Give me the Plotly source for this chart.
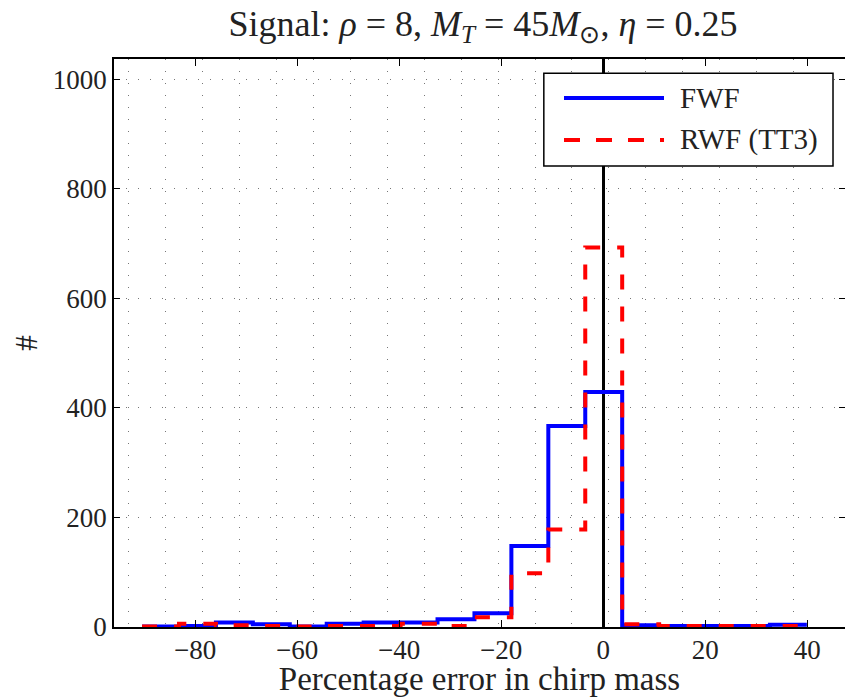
import plotly.graph_objects as go
import numpy as np

# histogram bins: percentage error in chirp mass
bin_start = -90.4
bin_width = 7.24
n_bins = 18
edges = bin_start + bin_width * np.arange(n_bins + 1)

# counts per bin
fwf_counts = [1, 2, 8, 5, 1, 6, 8, 8, 14, 25, 148, 367, 429, 3, 2, 2, 2, 4]
rwf_counts = [1, 6, 3, 2, 1, 2, 2, 6, 2, 18, 98, 178, 693, 5, 2, 2, 2, 2]
series_names = ["FWF", "RWF (TT3)"]

# dotted vertical grid (bin centres of the original hist call)
grid_start = -93.0
n_grid = 19
grid_x = grid_start + bin_width * np.arange(n_grid)

x_ticks = [-80, -60, -40, -20, 0, 20, 40]
y_ticks = [0, 200, 400, 600, 800, 1000]

font_family = "Liberation Serif"
text_color = "#222222"

fig = go.Figure()

fig.add_trace(go.Scatter(
    x=edges, y=fwf_counts + [fwf_counts[-1]],
    mode="lines", name=series_names[0],
    line=dict(shape="hv", color="#0000ff", width=4),
    showlegend=False))

fig.add_trace(go.Scatter(
    x=edges, y=rwf_counts + [rwf_counts[-1]],
    mode="lines", name=series_names[1],
    line=dict(shape="hv", color="#ff0000", width=4, dash="15px,17px"),
    showlegend=False))

# legend box drawn by hand so the sample lines are as long as in the original
lx0, lx1, ly0, ly1 = 0.588, 0.9836, 0.8116, 0.975
fig.add_shape(type="rect", xref="paper", yref="paper",
              x0=lx0, x1=lx1, y0=ly0, y1=ly1,
              line=dict(color="black", width=1.5), fillcolor="white", layer="above")
fig.add_shape(type="line", xref="paper", yref="paper",
              x0=0.6156, x1=0.7524, y0=0.9313, y1=0.9313,
              line=dict(color="#0000ff", width=4), layer="above")
fig.add_shape(type="line", xref="paper", yref="paper",
              x0=0.6156, x1=0.7524, y0=0.8574, y1=0.8574,
              line=dict(color="#ff0000", width=4, dash="16px,16px"), layer="above")
for name, yy in zip(series_names, [0.9313, 0.8574]):
    fig.add_annotation(text=name, xref="paper", yref="paper", x=0.7716, y=yy,
                       xanchor="left", yanchor="middle", showarrow=False,
                       font=dict(family=font_family, size=29, color=text_color))

fig.update_layout(
    width=845, height=697,
    margin=dict(l=114, r=0, t=59, b=70, autoexpand=False),
    paper_bgcolor="white", plot_bgcolor="white",
    font=dict(family=font_family, size=27, color=text_color),
    title=dict(
        text="Signal: <i>ρ</i> = 8, <i>M<sub>T</sub></i> = 45<i>M</i><sub>⊙</sub>, <i>η</i> = 0.25",
        x=483 / 845, xref="container", xanchor="center",
        y=1 - 23 / 697, yref="container", yanchor="middle",
        font=dict(family=font_family, size=36, color=text_color)),
    xaxis=dict(
        range=[-95.9, 47.4], tickmode="array", tickvals=x_ticks,
        ticktext=[str(v).replace("-", "\u2212") for v in x_ticks],
        ticks="inside", ticklen=7, tickwidth=1, tickcolor="black",
        ticklabelstandoff=-2,
        showline=True, linecolor="black", linewidth=1.5, mirror="ticks",
        showgrid=False, automargin=False,
        zeroline=True, zerolinecolor="black", zerolinewidth=3,
        minor=dict(tickmode="array", tickvals=list(grid_x), ticks="",
                   showgrid=True, gridcolor="#777777", gridwidth=1,
                   griddash="1px,11px"),
        title=dict(text="Percentage error in chirp mass", standoff=6,
                   font=dict(size=33)),
    ),
    yaxis=dict(
        range=[0, 1037], tickmode="array", tickvals=y_ticks,
        ticks="inside", ticklen=6, tickwidth=1, tickcolor="black",
        showline=True, linecolor="black", linewidth=1.5, mirror="ticks",
        showgrid=True, gridcolor="#777777", gridwidth=1, griddash="1px,11px",
        zeroline=False, automargin=False,
        title=dict(text="#", standoff=6, font=dict(size=31)),
    ),
)

# the page body has a default 8px margin; drop it so the figure sits at the corner
fig.write_html("out.html", config={"displayModeBar": False},
               post_script="document.body.style.margin='0px';")
